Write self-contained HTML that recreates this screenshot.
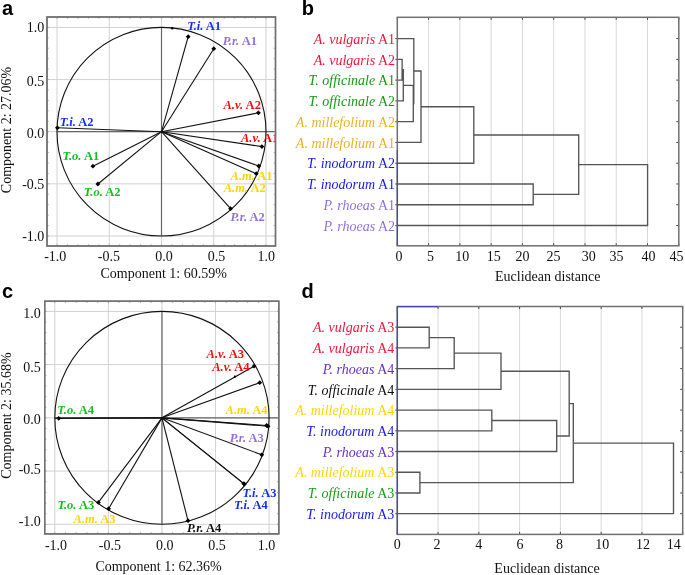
<!DOCTYPE html>
<html><head><meta charset="utf-8"><title>Figure</title>
<style>html,body{margin:0;padding:0;background:#fff;}body{width:685px;height:575px;overflow:hidden;}svg{display:block;filter:blur(0.3px);}</style>
</head><body>
<svg width="685" height="575" viewBox="0 0 685 575"><line x1="57" y1="17" x2="57" y2="246" stroke="#d2d2d2" stroke-width="1"/>
<line x1="47" y1="236" x2="275.5" y2="236" stroke="#d2d2d2" stroke-width="1"/>
<line x1="109.25" y1="17" x2="109.25" y2="246" stroke="#d2d2d2" stroke-width="1"/>
<line x1="47" y1="183.85" x2="275.5" y2="183.85" stroke="#d2d2d2" stroke-width="1"/>
<line x1="213.75" y1="17" x2="213.75" y2="246" stroke="#d2d2d2" stroke-width="1"/>
<line x1="47" y1="79.55" x2="275.5" y2="79.55" stroke="#d2d2d2" stroke-width="1"/>
<line x1="266" y1="17" x2="266" y2="246" stroke="#d2d2d2" stroke-width="1"/>
<line x1="47" y1="27.4" x2="275.5" y2="27.4" stroke="#d2d2d2" stroke-width="1"/>
<line x1="161.5" y1="17" x2="161.5" y2="246" stroke="#d2d2d2" stroke-width="1"/>
<line x1="47" y1="131.7" x2="275.5" y2="131.7" stroke="#d2d2d2" stroke-width="1"/>
<line x1="161.5" y1="27.4" x2="161.5" y2="236" stroke="#666" stroke-width="1.2"/>
<line x1="57" y1="131.7" x2="275.5" y2="131.7" stroke="#666" stroke-width="1.2"/>
<ellipse cx="161.5" cy="131.7" rx="104.5" ry="104.3" fill="none" stroke="#111" stroke-width="1.1"/>
<line x1="161.5" y1="131.7" x2="188.2" y2="36.7" stroke="#111" stroke-width="1.1"/>
<path d="M188.2 34.3l2.4 2.4l-2.4 2.4l-2.4 -2.4z" fill="#000"/>
<line x1="161.5" y1="131.7" x2="213.8" y2="48.7" stroke="#111" stroke-width="1.1"/>
<path d="M213.8 46.3l2.4 2.4l-2.4 2.4l-2.4 -2.4z" fill="#000"/>
<line x1="161.5" y1="131.7" x2="258.4" y2="112.8" stroke="#111" stroke-width="1.1"/>
<path d="M258.4 110.4l2.4 2.4l-2.4 2.4l-2.4 -2.4z" fill="#000"/>
<line x1="161.5" y1="131.7" x2="261.9" y2="146.6" stroke="#111" stroke-width="1.1"/>
<path d="M261.9 144.2l2.4 2.4l-2.4 2.4l-2.4 -2.4z" fill="#000"/>
<line x1="161.5" y1="131.7" x2="258.7" y2="166" stroke="#111" stroke-width="1.1"/>
<path d="M258.7 163.6l2.4 2.4l-2.4 2.4l-2.4 -2.4z" fill="#000"/>
<line x1="161.5" y1="131.7" x2="256.3" y2="173.7" stroke="#111" stroke-width="1.1"/>
<path d="M256.3 171.3l2.4 2.4l-2.4 2.4l-2.4 -2.4z" fill="#000"/>
<line x1="161.5" y1="131.7" x2="230.6" y2="208.7" stroke="#111" stroke-width="1.1"/>
<path d="M230.6 206.3l2.4 2.4l-2.4 2.4l-2.4 -2.4z" fill="#000"/>
<line x1="161.5" y1="131.7" x2="57.4" y2="127.8" stroke="#111" stroke-width="1.1"/>
<path d="M57.4 125.4l2.4 2.4l-2.4 2.4l-2.4 -2.4z" fill="#000"/>
<line x1="161.5" y1="131.7" x2="92.9" y2="166.2" stroke="#111" stroke-width="1.1"/>
<path d="M92.9 163.8l2.4 2.4l-2.4 2.4l-2.4 -2.4z" fill="#000"/>
<line x1="161.5" y1="131.7" x2="97.9" y2="184" stroke="#111" stroke-width="1.1"/>
<path d="M97.9 181.6l2.4 2.4l-2.4 2.4l-2.4 -2.4z" fill="#000"/>
<circle cx="172.2" cy="28.3" r="1.3" fill="#000"/>
<path d="M57 246v-1.8M57 17v1.8M47 236h1.8M275.5 236h-1.8M67.45 246v-1.8M67.45 17v1.8M47 225.57h1.8M275.5 225.57h-1.8M77.9 246v-1.8M77.9 17v1.8M47 215.14h1.8M275.5 215.14h-1.8M88.35 246v-1.8M88.35 17v1.8M47 204.71h1.8M275.5 204.71h-1.8M98.8 246v-1.8M98.8 17v1.8M47 194.28h1.8M275.5 194.28h-1.8M109.25 246v-1.8M109.25 17v1.8M47 183.85h1.8M275.5 183.85h-1.8M119.7 246v-1.8M119.7 17v1.8M47 173.42h1.8M275.5 173.42h-1.8M130.15 246v-1.8M130.15 17v1.8M47 162.99h1.8M275.5 162.99h-1.8M140.6 246v-1.8M140.6 17v1.8M47 152.56h1.8M275.5 152.56h-1.8M151.05 246v-1.8M151.05 17v1.8M47 142.13h1.8M275.5 142.13h-1.8M161.5 246v-1.8M161.5 17v1.8M47 131.7h1.8M275.5 131.7h-1.8M171.95 246v-1.8M171.95 17v1.8M47 121.27h1.8M275.5 121.27h-1.8M182.4 246v-1.8M182.4 17v1.8M47 110.84h1.8M275.5 110.84h-1.8M192.85 246v-1.8M192.85 17v1.8M47 100.41h1.8M275.5 100.41h-1.8M203.3 246v-1.8M203.3 17v1.8M47 89.98h1.8M275.5 89.98h-1.8M213.75 246v-1.8M213.75 17v1.8M47 79.55h1.8M275.5 79.55h-1.8M224.2 246v-1.8M224.2 17v1.8M47 69.12h1.8M275.5 69.12h-1.8M234.65 246v-1.8M234.65 17v1.8M47 58.69h1.8M275.5 58.69h-1.8M245.1 246v-1.8M245.1 17v1.8M47 48.26h1.8M275.5 48.26h-1.8M255.55 246v-1.8M255.55 17v1.8M47 37.83h1.8M275.5 37.83h-1.8M266 246v-1.8M266 17v1.8M47 27.4h1.8M275.5 27.4h-1.8" stroke="#aaa" stroke-width="0.9" fill="none"/>
<rect x="47" y="17" width="228.5" height="229" fill="none" stroke="#707070" stroke-width="1.4"/>
<clipPath id="clip36"><rect x="47" y="17" width="228.5" height="229"/></clipPath><g clip-path="url(#clip36)">
<text x="187.2" y="30.3" font-family="Liberation Serif" font-size="12.5" font-weight="bold" fill="#1430f5"><tspan font-style="italic">T.i.</tspan> A1</text>
<text x="222.8" y="45.4" font-family="Liberation Serif" font-size="12.5" font-weight="bold" fill="#9370db"><tspan font-style="italic">P.r.</tspan> A1</text>
<text x="223.5" y="109.1" font-family="Liberation Serif" font-size="12.5" font-weight="bold" fill="#ff0a0a"><tspan font-style="italic">A.v.</tspan> A2</text>
<text x="241" y="141.8" font-family="Liberation Serif" font-size="12.5" font-weight="bold" fill="#ff0a0a"><tspan font-style="italic">A.v.</tspan> A1</text>
<text x="230.6" y="180.3" font-family="Liberation Serif" font-size="12.5" font-weight="bold" fill="#ffd400"><tspan font-style="italic">A.m.</tspan> A1</text>
<text x="223.7" y="192.4" font-family="Liberation Serif" font-size="12.5" font-weight="bold" fill="#ffd400"><tspan font-style="italic">A.m.</tspan> A2</text>
<text x="230.6" y="220.7" font-family="Liberation Serif" font-size="12.5" font-weight="bold" fill="#9370db"><tspan font-style="italic">P.r.</tspan> A2</text>
<text x="59.7" y="126.2" font-family="Liberation Serif" font-size="12.5" font-weight="bold" fill="#1430f5"><tspan font-style="italic">T.i.</tspan> A2</text>
<text x="62.5" y="160.4" font-family="Liberation Serif" font-size="12.5" font-weight="bold" fill="#12c21e"><tspan font-style="italic">T.o.</tspan> A1</text>
<text x="83.8" y="196" font-family="Liberation Serif" font-size="12.5" font-weight="bold" fill="#12c21e"><tspan font-style="italic">T.o.</tspan> A2</text>
</g>
<rect x="47" y="17" width="228.5" height="229" fill="none" stroke="#707070" stroke-width="1.4"/>
<text x="55.3" y="261" font-family="Liberation Serif" font-size="14" fill="#111" text-anchor="middle">-1.0</text>
<text x="108.95" y="261" font-family="Liberation Serif" font-size="14" fill="#111" text-anchor="middle">-0.5</text>
<text x="164.1" y="261" font-family="Liberation Serif" font-size="14" fill="#111" text-anchor="middle">0.0</text>
<text x="216.55" y="261" font-family="Liberation Serif" font-size="14" fill="#111" text-anchor="middle">0.5</text>
<text x="266.3" y="261" font-family="Liberation Serif" font-size="14" fill="#111" text-anchor="middle">1.0</text>
<text x="44.3" y="32.4" font-family="Liberation Serif" font-size="14" fill="#111" text-anchor="end">1.0</text>
<text x="44.3" y="86.05" font-family="Liberation Serif" font-size="14" fill="#111" text-anchor="end">0.5</text>
<text x="44.3" y="138.2" font-family="Liberation Serif" font-size="14" fill="#111" text-anchor="end">0.0</text>
<text x="44.3" y="188.55" font-family="Liberation Serif" font-size="14" fill="#111" text-anchor="end">-0.5</text>
<text x="44.3" y="240.7" font-family="Liberation Serif" font-size="14" fill="#111" text-anchor="end">-1.0</text>
<text x="163.7" y="278" font-family="Liberation Serif" font-size="14" fill="#111" text-anchor="middle">Component 1: 60.59%</text>
<text transform="translate(11.1,130) rotate(-90)" font-family="Liberation Serif" font-size="14" fill="#111" text-anchor="middle">Component 2: 27.06%</text>
<line x1="54.8" y1="301.2" x2="54.8" y2="533.9" stroke="#d2d2d2" stroke-width="1"/>
<line x1="44.7" y1="524.3" x2="278.8" y2="524.3" stroke="#d2d2d2" stroke-width="1"/>
<line x1="108.37" y1="301.2" x2="108.37" y2="533.9" stroke="#d2d2d2" stroke-width="1"/>
<line x1="44.7" y1="471.08" x2="278.8" y2="471.08" stroke="#d2d2d2" stroke-width="1"/>
<line x1="215.52" y1="301.2" x2="215.52" y2="533.9" stroke="#d2d2d2" stroke-width="1"/>
<line x1="44.7" y1="364.62" x2="278.8" y2="364.62" stroke="#d2d2d2" stroke-width="1"/>
<line x1="269.1" y1="301.2" x2="269.1" y2="533.9" stroke="#d2d2d2" stroke-width="1"/>
<line x1="44.7" y1="311.4" x2="278.8" y2="311.4" stroke="#d2d2d2" stroke-width="1"/>
<line x1="161.95" y1="301.2" x2="161.95" y2="533.9" stroke="#d2d2d2" stroke-width="1"/>
<line x1="44.7" y1="417.85" x2="278.8" y2="417.85" stroke="#d2d2d2" stroke-width="1"/>
<line x1="161.95" y1="311.4" x2="161.95" y2="524.3" stroke="#666" stroke-width="1.2"/>
<line x1="54.8" y1="417.85" x2="278.8" y2="417.85" stroke="#666" stroke-width="1.2"/>
<ellipse cx="161.95" cy="417.85" rx="107.15" ry="106.45" fill="none" stroke="#111" stroke-width="1.1"/>
<line x1="161.95" y1="417.85" x2="254.1" y2="366.2" stroke="#111" stroke-width="1.1"/>
<path d="M254.1 363.8l2.4 2.4l-2.4 2.4l-2.4 -2.4z" fill="#000"/>
<line x1="161.95" y1="417.85" x2="259.7" y2="382.7" stroke="#111" stroke-width="1.1"/>
<path d="M259.7 380.3l2.4 2.4l-2.4 2.4l-2.4 -2.4z" fill="#000"/>
<line x1="161.95" y1="417.85" x2="268" y2="426.2" stroke="#111" stroke-width="1.1"/>
<path d="M268 423.8l2.4 2.4l-2.4 2.4l-2.4 -2.4z" fill="#000"/>
<line x1="161.95" y1="417.85" x2="266.5" y2="425.5" stroke="#111" stroke-width="1.1"/>
<path d="M266.5 423.1l2.4 2.4l-2.4 2.4l-2.4 -2.4z" fill="#000"/>
<line x1="161.95" y1="417.85" x2="261.8" y2="454.8" stroke="#111" stroke-width="1.1"/>
<path d="M261.8 452.4l2.4 2.4l-2.4 2.4l-2.4 -2.4z" fill="#000"/>
<line x1="161.95" y1="417.85" x2="244.3" y2="484.1" stroke="#111" stroke-width="1.1"/>
<path d="M244.3 481.7l2.4 2.4l-2.4 2.4l-2.4 -2.4z" fill="#000"/>
<line x1="161.95" y1="417.85" x2="243.8" y2="483.6" stroke="#111" stroke-width="1.1"/>
<path d="M243.8 481.2l2.4 2.4l-2.4 2.4l-2.4 -2.4z" fill="#000"/>
<line x1="161.95" y1="417.85" x2="188" y2="520.7" stroke="#111" stroke-width="1.1"/>
<path d="M188 518.3l2.4 2.4l-2.4 2.4l-2.4 -2.4z" fill="#000"/>
<line x1="161.95" y1="417.85" x2="98.4" y2="502.4" stroke="#111" stroke-width="1.1"/>
<path d="M98.4 500l2.4 2.4l-2.4 2.4l-2.4 -2.4z" fill="#000"/>
<line x1="161.95" y1="417.85" x2="108.6" y2="508.7" stroke="#111" stroke-width="1.1"/>
<path d="M108.6 506.3l2.4 2.4l-2.4 2.4l-2.4 -2.4z" fill="#000"/>
<line x1="161.95" y1="417.85" x2="58.7" y2="418.3" stroke="#111" stroke-width="1.1"/>
<path d="M58.7 415.9l2.4 2.4l-2.4 2.4l-2.4 -2.4z" fill="#000"/>
<line x1="161.95" y1="417.85" x2="54.8" y2="418.3" stroke="#111" stroke-width="1.1"/><circle cx="234.9" cy="376.7" r="1.1" fill="#000"/>
<path d="M54.8 533.9v-1.8M54.8 301.2v1.8M44.7 524.3h1.8M278.8 524.3h-1.8M65.51 533.9v-1.8M65.51 301.2v1.8M44.7 513.65h1.8M278.8 513.65h-1.8M76.23 533.9v-1.8M76.23 301.2v1.8M44.7 503.01h1.8M278.8 503.01h-1.8M86.94 533.9v-1.8M86.94 301.2v1.8M44.7 492.37h1.8M278.8 492.37h-1.8M97.66 533.9v-1.8M97.66 301.2v1.8M44.7 481.72h1.8M278.8 481.72h-1.8M108.37 533.9v-1.8M108.37 301.2v1.8M44.7 471.08h1.8M278.8 471.08h-1.8M119.09 533.9v-1.8M119.09 301.2v1.8M44.7 460.43h1.8M278.8 460.43h-1.8M129.8 533.9v-1.8M129.8 301.2v1.8M44.7 449.79h1.8M278.8 449.79h-1.8M140.52 533.9v-1.8M140.52 301.2v1.8M44.7 439.14h1.8M278.8 439.14h-1.8M151.23 533.9v-1.8M151.23 301.2v1.8M44.7 428.5h1.8M278.8 428.5h-1.8M161.95 533.9v-1.8M161.95 301.2v1.8M44.7 417.85h1.8M278.8 417.85h-1.8M172.66 533.9v-1.8M172.66 301.2v1.8M44.7 407.21h1.8M278.8 407.21h-1.8M183.38 533.9v-1.8M183.38 301.2v1.8M44.7 396.56h1.8M278.8 396.56h-1.8M194.09 533.9v-1.8M194.09 301.2v1.8M44.7 385.92h1.8M278.8 385.92h-1.8M204.81 533.9v-1.8M204.81 301.2v1.8M44.7 375.27h1.8M278.8 375.27h-1.8M215.52 533.9v-1.8M215.52 301.2v1.8M44.7 364.62h1.8M278.8 364.62h-1.8M226.24 533.9v-1.8M226.24 301.2v1.8M44.7 353.98h1.8M278.8 353.98h-1.8M236.95 533.9v-1.8M236.95 301.2v1.8M44.7 343.34h1.8M278.8 343.34h-1.8M247.67 533.9v-1.8M247.67 301.2v1.8M44.7 332.69h1.8M278.8 332.69h-1.8M258.38 533.9v-1.8M258.38 301.2v1.8M44.7 322.05h1.8M278.8 322.05h-1.8M269.1 533.9v-1.8M269.1 301.2v1.8M44.7 311.4h1.8M278.8 311.4h-1.8" stroke="#aaa" stroke-width="0.9" fill="none"/>
<rect x="44.7" y="301.2" width="234.1" height="232.7" fill="none" stroke="#707070" stroke-width="1.4"/>
<clipPath id="clip99"><rect x="44.7" y="301.2" width="234.1" height="232.7"/></clipPath><g clip-path="url(#clip99)">
<text x="206.6" y="358.4" font-family="Liberation Serif" font-size="12.5" font-weight="bold" fill="#ff0a0a"><tspan font-style="italic">A.v.</tspan> A3</text>
<text x="212.2" y="370.9" font-family="Liberation Serif" font-size="12.5" font-weight="bold" fill="#ff0a0a"><tspan font-style="italic">A.v.</tspan> A4</text>
<text x="225.6" y="414.2" font-family="Liberation Serif" font-size="12.5" font-weight="bold" fill="#ffd400"><tspan font-style="italic">A.m.</tspan> A4</text>
<text x="229.7" y="442.3" font-family="Liberation Serif" font-size="12.5" font-weight="bold" fill="#9370db"><tspan font-style="italic">P.r.</tspan> A3</text>
<text x="242.5" y="497.4" font-family="Liberation Serif" font-size="12.5" font-weight="bold" fill="#1430f5"><tspan font-style="italic">T.i.</tspan> A3</text>
<text x="233.9" y="509.4" font-family="Liberation Serif" font-size="12.5" font-weight="bold" fill="#1430f5"><tspan font-style="italic">T.i.</tspan> A4</text>
<text x="187" y="531.7" font-family="Liberation Serif" font-size="12.5" font-weight="bold" fill="#111"><tspan font-style="italic">P.r.</tspan> A4</text>
<text x="57.5" y="509" font-family="Liberation Serif" font-size="12.5" font-weight="bold" fill="#12c21e"><tspan font-style="italic">T.o.</tspan> A3</text>
<text x="73.5" y="523.2" font-family="Liberation Serif" font-size="12.5" font-weight="bold" fill="#ffd400"><tspan font-style="italic">A.m.</tspan> A3</text>
<text x="57.3" y="414.2" font-family="Liberation Serif" font-size="12.5" font-weight="bold" fill="#12c21e"><tspan font-style="italic">T.o.</tspan> A4</text>
</g>
<rect x="44.7" y="301.2" width="234.1" height="232.7" fill="none" stroke="#707070" stroke-width="1.4"/>
<text x="56" y="550.3" font-family="Liberation Serif" font-size="14" fill="#111" text-anchor="middle">-1.0</text>
<text x="109.87" y="550.3" font-family="Liberation Serif" font-size="14" fill="#111" text-anchor="middle">-0.5</text>
<text x="164.85" y="550.3" font-family="Liberation Serif" font-size="14" fill="#111" text-anchor="middle">0.0</text>
<text x="216.92" y="550.3" font-family="Liberation Serif" font-size="14" fill="#111" text-anchor="middle">0.5</text>
<text x="266.6" y="550.3" font-family="Liberation Serif" font-size="14" fill="#111" text-anchor="middle">1.0</text>
<text x="40.8" y="317.6" font-family="Liberation Serif" font-size="14" fill="#111" text-anchor="end">1.0</text>
<text x="40.8" y="371.52" font-family="Liberation Serif" font-size="14" fill="#111" text-anchor="end">0.5</text>
<text x="40.8" y="423.65" font-family="Liberation Serif" font-size="14" fill="#111" text-anchor="end">0.0</text>
<text x="40.8" y="474.48" font-family="Liberation Serif" font-size="14" fill="#111" text-anchor="end">-0.5</text>
<text x="40.8" y="525.9" font-family="Liberation Serif" font-size="14" fill="#111" text-anchor="end">-1.0</text>
<text x="158.6" y="571" font-family="Liberation Serif" font-size="14" fill="#111" text-anchor="middle">Component 1: 62.36%</text>
<text transform="translate(11.1,415.6) rotate(-90)" font-family="Liberation Serif" font-size="14" fill="#111" text-anchor="middle">Component 2: 35.68%</text>
<line x1="428.58" y1="17.3" x2="428.58" y2="245.8" stroke="#d8d8d8" stroke-width="1"/>
<line x1="459.86" y1="17.3" x2="459.86" y2="245.8" stroke="#d8d8d8" stroke-width="1"/>
<line x1="491.13" y1="17.3" x2="491.13" y2="245.8" stroke="#d8d8d8" stroke-width="1"/>
<line x1="522.41" y1="17.3" x2="522.41" y2="245.8" stroke="#d8d8d8" stroke-width="1"/>
<line x1="553.69" y1="17.3" x2="553.69" y2="245.8" stroke="#d8d8d8" stroke-width="1"/>
<line x1="584.97" y1="17.3" x2="584.97" y2="245.8" stroke="#d8d8d8" stroke-width="1"/>
<line x1="616.24" y1="17.3" x2="616.24" y2="245.8" stroke="#d8d8d8" stroke-width="1"/>
<line x1="647.52" y1="17.3" x2="647.52" y2="245.8" stroke="#d8d8d8" stroke-width="1"/>
<path d="M397.3 59.35H402.1V80.12H397.3M402.1 69.73H403.3V100.89H397.3M403.3 85.31H413.3V121.66H397.3M397.3 38.57H413.8V103.49H413.3M413.8 71.03H421V142.44H397.3M421 106.73H473.8V163.21H397.3M397.3 183.98H533.2V204.75H397.3M473.8 134.97H578.7V194.37H533.2M578.7 164.67H647.6V225.53H397.3" stroke="#555" stroke-width="1.35" fill="none"/>
<path d="M397.3 245.8v-2.5M397.3 17.3v2.5M428.58 245.8v-2.5M428.58 17.3v2.5M459.86 245.8v-2.5M459.86 17.3v2.5M491.13 245.8v-2.5M491.13 17.3v2.5M522.41 245.8v-2.5M522.41 17.3v2.5M553.69 245.8v-2.5M553.69 17.3v2.5M584.97 245.8v-2.5M584.97 17.3v2.5M616.24 245.8v-2.5M616.24 17.3v2.5M647.52 245.8v-2.5M647.52 17.3v2.5M678.8 245.8v-2.5M678.8 17.3v2.5M678.8 38.57h-2.5M397.3 38.57h-2M678.8 59.35h-2.5M397.3 59.35h-2M678.8 80.12h-2.5M397.3 80.12h-2M678.8 100.89h-2.5M397.3 100.89h-2M678.8 121.66h-2.5M397.3 121.66h-2M678.8 142.44h-2.5M397.3 142.44h-2M678.8 163.21h-2.5M397.3 163.21h-2M678.8 183.98h-2.5M397.3 183.98h-2M678.8 204.75h-2.5M397.3 204.75h-2M678.8 225.53h-2.5M397.3 225.53h-2" stroke="#444" stroke-width="1" fill="none"/>
<rect x="397.3" y="17.3" width="281.5" height="228.5" fill="none" stroke="#707070" stroke-width="1.5"/>
<line x1="397.3" y1="150" x2="397.3" y2="245.8" stroke="#4848a8" stroke-width="1.25"/>
<text x="395" y="43.77" font-family="Liberation Serif" font-size="14" text-anchor="end"><tspan font-style="italic" fill="#f5143c">A. vulgaris</tspan><tspan fill="#f5143c"> A1</tspan></text>
<text x="395" y="64.55" font-family="Liberation Serif" font-size="14" text-anchor="end"><tspan font-style="italic" fill="#f5143c">A. vulgaris</tspan><tspan fill="#f5143c"> A2</tspan></text>
<text x="395" y="85.32" font-family="Liberation Serif" font-size="14" text-anchor="end"><tspan font-style="italic" fill="#149a14">T. officinale</tspan><tspan fill="#149a14"> A1</tspan></text>
<text x="395" y="106.09" font-family="Liberation Serif" font-size="14" text-anchor="end"><tspan font-style="italic" fill="#149a14">T. officinale</tspan><tspan fill="#149a14"> A2</tspan></text>
<text x="395" y="126.86" font-family="Liberation Serif" font-size="14" text-anchor="end"><tspan font-style="italic" fill="#e8b41e">A. millefolium</tspan><tspan fill="#e8b41e"> A2</tspan></text>
<text x="395" y="147.64" font-family="Liberation Serif" font-size="14" text-anchor="end"><tspan font-style="italic" fill="#e8b41e">A. millefolium</tspan><tspan fill="#e8b41e"> A1</tspan></text>
<text x="395" y="168.41" font-family="Liberation Serif" font-size="14" text-anchor="end"><tspan font-style="italic" fill="#1818f0">T. inodorum</tspan><tspan fill="#1818f0"> A2</tspan></text>
<text x="395" y="189.18" font-family="Liberation Serif" font-size="14" text-anchor="end"><tspan font-style="italic" fill="#1818f0">T. inodorum</tspan><tspan fill="#1818f0"> A1</tspan></text>
<text x="395" y="209.95" font-family="Liberation Serif" font-size="14" text-anchor="end"><tspan font-style="italic" fill="#9370db">P. rhoeas</tspan><tspan fill="#9370db"> A1</tspan></text>
<text x="395" y="230.73" font-family="Liberation Serif" font-size="14" text-anchor="end"><tspan font-style="italic" fill="#9370db">P. rhoeas</tspan><tspan fill="#9370db"> A2</tspan></text>
<text x="398.9" y="261.3" font-family="Liberation Serif" font-size="14" fill="#111" text-anchor="middle">0</text>
<text x="430.38" y="261.3" font-family="Liberation Serif" font-size="14" fill="#111" text-anchor="middle">5</text>
<text x="462.36" y="261.3" font-family="Liberation Serif" font-size="14" fill="#111" text-anchor="middle">10</text>
<text x="493.63" y="261.3" font-family="Liberation Serif" font-size="14" fill="#111" text-anchor="middle">15</text>
<text x="522.41" y="261.3" font-family="Liberation Serif" font-size="14" fill="#111" text-anchor="middle">20</text>
<text x="553.49" y="261.3" font-family="Liberation Serif" font-size="14" fill="#111" text-anchor="middle">25</text>
<text x="588.67" y="261.3" font-family="Liberation Serif" font-size="14" fill="#111" text-anchor="middle">30</text>
<text x="616.54" y="261.3" font-family="Liberation Serif" font-size="14" fill="#111" text-anchor="middle">35</text>
<text x="648.52" y="261.3" font-family="Liberation Serif" font-size="14" fill="#111" text-anchor="middle">40</text>
<text x="676.5" y="261.3" font-family="Liberation Serif" font-size="14" fill="#111" text-anchor="middle">45</text>
<text x="547.7" y="281" font-family="Liberation Serif" font-size="14" fill="#111" text-anchor="middle">Euclidean distance</text>
<line x1="438.07" y1="306.5" x2="438.07" y2="534.4" stroke="#d8d8d8" stroke-width="1"/>
<line x1="478.84" y1="306.5" x2="478.84" y2="534.4" stroke="#d8d8d8" stroke-width="1"/>
<line x1="519.61" y1="306.5" x2="519.61" y2="534.4" stroke="#d8d8d8" stroke-width="1"/>
<line x1="560.39" y1="306.5" x2="560.39" y2="534.4" stroke="#d8d8d8" stroke-width="1"/>
<line x1="601.16" y1="306.5" x2="601.16" y2="534.4" stroke="#d8d8d8" stroke-width="1"/>
<line x1="641.93" y1="306.5" x2="641.93" y2="534.4" stroke="#d8d8d8" stroke-width="1"/>
<path d="M397.3 327.22H429.2V347.94H397.3M429.2 337.58H454.2V368.65H397.3M454.2 353.12H501V389.37H397.3M397.3 410.09H491.8V430.81H397.3M491.8 420.45H556.7V451.53H397.3M501 371.24H569.2V435.99H556.7M397.3 472.25H419.9V492.96H397.3M569.2 403.62H573.3V482.6H419.9M573.3 443.11H673.5V513.68H397.3" stroke="#555" stroke-width="1.35" fill="none"/>
<path d="M397.3 534.4v-2.5M397.3 306.5v2.5M438.07 534.4v-2.5M438.07 306.5v2.5M478.84 534.4v-2.5M478.84 306.5v2.5M519.61 534.4v-2.5M519.61 306.5v2.5M560.39 534.4v-2.5M560.39 306.5v2.5M601.16 534.4v-2.5M601.16 306.5v2.5M641.93 534.4v-2.5M641.93 306.5v2.5M682.7 534.4v-2.5M682.7 306.5v2.5M682.7 327.22h-2.5M397.3 327.22h-2M682.7 347.94h-2.5M397.3 347.94h-2M682.7 368.65h-2.5M397.3 368.65h-2M682.7 389.37h-2.5M397.3 389.37h-2M682.7 410.09h-2.5M397.3 410.09h-2M682.7 430.81h-2.5M397.3 430.81h-2M682.7 451.53h-2.5M397.3 451.53h-2M682.7 472.25h-2.5M397.3 472.25h-2M682.7 492.96h-2.5M397.3 492.96h-2M682.7 513.68h-2.5M397.3 513.68h-2" stroke="#444" stroke-width="1" fill="none"/>
<rect x="397.3" y="306.5" width="285.4" height="227.9" fill="none" stroke="#707070" stroke-width="1.5"/>
<line x1="397.3" y1="306.5" x2="397.3" y2="534.4" stroke="#4848a8" stroke-width="1.25"/>
<line x1="397.3" y1="306.5" x2="438" y2="306.5" stroke="#4848a8" stroke-width="1.25"/>
<text x="394.3" y="332.42" font-family="Liberation Serif" font-size="14" text-anchor="end"><tspan font-style="italic" fill="#f5143c">A. vulgaris</tspan><tspan fill="#f5143c"> A3</tspan></text>
<text x="394.3" y="353.14" font-family="Liberation Serif" font-size="14" text-anchor="end"><tspan font-style="italic" fill="#f5143c">A. vulgaris</tspan><tspan fill="#f5143c"> A4</tspan></text>
<text x="394.3" y="373.85" font-family="Liberation Serif" font-size="14" text-anchor="end"><tspan font-style="italic" fill="#6a2fd0">P. rhoeas</tspan><tspan fill="#6a2fd0"> A4</tspan></text>
<text x="394.3" y="394.57" font-family="Liberation Serif" font-size="14" text-anchor="end"><tspan font-style="italic" fill="#111">T. officinale</tspan><tspan fill="#111"> A4</tspan></text>
<text x="394.3" y="415.29" font-family="Liberation Serif" font-size="14" text-anchor="end"><tspan font-style="italic" fill="#ffd700">A. millefolium</tspan><tspan fill="#ffd700"> A4</tspan></text>
<text x="394.3" y="436.01" font-family="Liberation Serif" font-size="14" text-anchor="end"><tspan font-style="italic" fill="#1818f0">T. inodorum</tspan><tspan fill="#1818f0"> A4</tspan></text>
<text x="394.3" y="456.73" font-family="Liberation Serif" font-size="14" text-anchor="end"><tspan font-style="italic" fill="#6a2fd0">P. rhoeas</tspan><tspan fill="#6a2fd0"> A3</tspan></text>
<text x="394.3" y="477.45" font-family="Liberation Serif" font-size="14" text-anchor="end"><tspan font-style="italic" fill="#ffd700">A. millefolium</tspan><tspan fill="#ffd700"> A3</tspan></text>
<text x="394.3" y="498.16" font-family="Liberation Serif" font-size="14" text-anchor="end"><tspan font-style="italic" fill="#16a016">T. officinale</tspan><tspan fill="#16a016"> A3</tspan></text>
<text x="394.3" y="518.88" font-family="Liberation Serif" font-size="14" text-anchor="end"><tspan font-style="italic" fill="#1818f0">T. inodorum</tspan><tspan fill="#1818f0"> A3</tspan></text>
<text x="397.3" y="549" font-family="Liberation Serif" font-size="14" fill="#111" text-anchor="middle">0</text>
<text x="437.07" y="549" font-family="Liberation Serif" font-size="14" fill="#111" text-anchor="middle">2</text>
<text x="478.84" y="549" font-family="Liberation Serif" font-size="14" fill="#111" text-anchor="middle">4</text>
<text x="520.11" y="549" font-family="Liberation Serif" font-size="14" fill="#111" text-anchor="middle">6</text>
<text x="559.39" y="549" font-family="Liberation Serif" font-size="14" fill="#111" text-anchor="middle">8</text>
<text x="602.16" y="549" font-family="Liberation Serif" font-size="14" fill="#111" text-anchor="middle">10</text>
<text x="642.93" y="549" font-family="Liberation Serif" font-size="14" fill="#111" text-anchor="middle">12</text>
<text x="673.7" y="549" font-family="Liberation Serif" font-size="14" fill="#111" text-anchor="middle">14</text>
<text x="547" y="572.7" font-family="Liberation Serif" font-size="14" fill="#111" text-anchor="middle">Euclidean distance</text>
<text x="2" y="14.6" font-family="Liberation Sans" font-weight="bold" font-size="20" fill="#000">a</text>
<text x="301.8" y="14.8" font-family="Liberation Sans" font-weight="bold" font-size="20" fill="#000">b</text>
<text x="2" y="297.5" font-family="Liberation Sans" font-weight="bold" font-size="20" fill="#000">c</text>
<text x="301.5" y="298.3" font-family="Liberation Sans" font-weight="bold" font-size="20" fill="#000">d</text></svg>
</body></html>
